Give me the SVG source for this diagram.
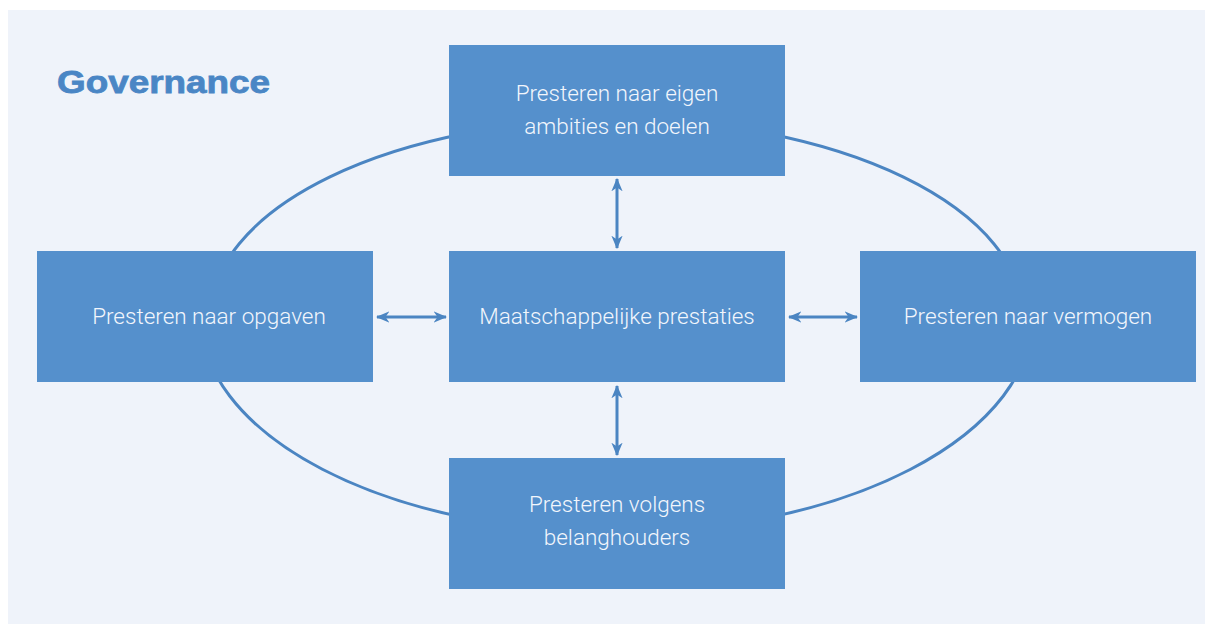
<svg xmlns="http://www.w3.org/2000/svg" width="1205" height="624" viewBox="0 0 1205 624">
<style>
.box{fill:#5590cc}
.lbl{font-family:Roboto,"Liberation Sans",sans-serif;font-size:22.5px;font-weight:300;fill:#f2f6fc;text-anchor:middle}
.ring{fill:none;stroke:#4b85c2;stroke-width:3}
.arr{stroke:#4b85c2;stroke-width:3;fill:none;marker-start:url(#ah);marker-end:url(#ah)}
</style>
<defs>
<marker id="ah" viewBox="0 0 12 10" refX="11" refY="5" markerWidth="4.5" markerHeight="4" orient="auto-start-reverse" markerUnits="strokeWidth">
<path d="M0,0 L12,5 L0,10 L3.5,5 z" fill="#4b85c2"/>
</marker>
</defs>
<rect x="0" y="0" width="1205" height="624" fill="#ffffff"/>
<rect x="8" y="10" width="1197" height="614" fill="#eff3fa"/>
<text x="57" y="93" font-family="'Liberation Sans',Arial,sans-serif" font-size="32" font-weight="900" fill="#4a86c5" stroke="#4a86c5" stroke-width="0.8" textLength="213" lengthAdjust="spacingAndGlyphs">Governance</text>
<g id="connectors">
<path class="ring" d="M210.5,316.5 A406,197 0 0 1 1022.5,316.5"/>
<path class="ring" d="M200.5,316.5 A416,216 0 0 0 1032.5,316.5"/>
<line class="arr" x1="377" y1="317" x2="446" y2="317"/>
<line class="arr" x1="789" y1="317" x2="857" y2="317"/>
<line class="arr" x1="617" y1="179" x2="617" y2="248"/>
<line class="arr" x1="617" y1="386" x2="617" y2="455"/>
</g>
<g id="node-top">
<rect class="box" x="449" y="45" width="336" height="131"/>
<text class="lbl" x="617" y="101">Presteren naar eigen</text>
<text class="lbl" x="617" y="134">ambities en doelen</text>
</g>
<g id="node-left">
<rect class="box" x="37" y="251" width="336" height="131"/>
<text class="lbl" x="209" y="324">Presteren naar opgaven</text>
</g>
<g id="node-center">
<rect class="box" x="449" y="251" width="336" height="131"/>
<text class="lbl" x="617" y="324">Maatschappelijke prestaties</text>
</g>
<g id="node-right">
<rect class="box" x="860" y="251" width="336" height="131"/>
<text class="lbl" x="1028" y="324">Presteren naar vermogen</text>
</g>
<g id="node-bottom">
<rect class="box" x="449" y="458" width="336" height="131"/>
<text class="lbl" x="617" y="512">Presteren volgens</text>
<text class="lbl" x="617" y="545">belanghouders</text>
</g>
</svg>
